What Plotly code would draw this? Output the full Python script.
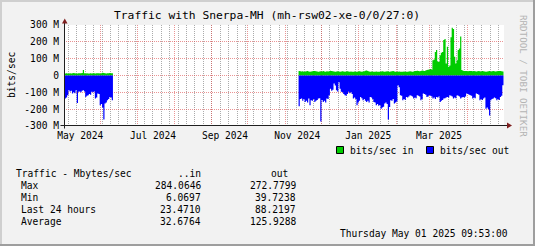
import plotly.graph_objects as go
import pandas as pd

FIG_W, FIG_H = 535, 246
L, R, T, B = 64, 504, 25, 126

title_text = "Traffic with Snerpa-MH (mh-rsw02-xe-0/0/27:0)"
x_start = "2024-05-01 09:53"
x_end = "2025-05-01 09:53"

# daily averages, Mbit/s (in positive, out drawn negative)
seg1_start = "2024-05-01"
seg1_in = [8, 12, 13, 12, 12, 13, 12, 14, 15, 13, 12, 12, 13, 14, 13, 15, 32, 14, 12, 13,
           12, 12, 13, 12, 14, 13, 12, 13, 14, 13, 12, 14, 16, 15, 13, 12, 13, 14, 15, 13, 14]
seg1_out = [-137, -137, -130, -117, -88, -95, -90, -107, -100, -105,
            -88, -163, -97, -95, -100, -90, -88, -95, -127, -120,
            -117, -110, -115, -97, -100, -95, -137, -130, -107, -110,
            -177, -170, -190, -262, -167, -160, -147, -140, -127, -130, -147]

seg2_start = "2024-11-12"
seg2_in = [26, 25, 24, 25, 23, 24, 25, 26, 24, 23,
           24, 25, 27, 26, 25, 24, 23, 24, 25, 24,
           26, 24, 23, 25, 24, 25, 28, 27, 25, 24,
           23, 24, 25, 24, 23, 24, 25, 24, 23, 24,
           25, 24, 23, 24, 22, 23, 24, 23, 22, 24,
           25, 24, 23, 24, 25, 28, 30, 26, 24, 23,
           24, 23, 22, 23, 24, 23, 22, 23, 24, 25,
           24, 23, 24, 25, 24, 23, 24, 25, 26, 24,
           23, 22, 23, 24, 23, 22, 23, 24, 23, 22,
           23, 24, 25, 24, 23, 24, 26, 27, 28, 26,
           25, 27, 30, 28, 26, 30, 32, 34,
           36, 38, 34, 90, 95, 140, 151, 85, 80, 121,
           135, 140, 211, 217, 72, 171, 52, 60, 227, 284.06,
           276, 111, 72, 90, 151, 160, 231, 32,
           28, 27, 26, 27, 25, 26, 27, 26, 25, 26,
           25, 24, 25, 26, 25, 24, 26, 25, 24, 23,
           24, 25, 26, 24, 25, 26, 25, 24, 25, 26,
           27, 26, 25, 24]
seg2_out = [-183, -140, -137, -150, -140, -157, -150, -160, -137, -177,
            -147, -150, -140, -157, -150, -145, -137, -135, -272.8, -145,
            -157, -150, -160, -137, -140, -117, -78, -90, -85, -48,
            -60, -87, -95, -40, -78, -97, -100, -110, -117, -120,
            -110, -97, -105, -100, -110, -137, -130, -140, -177, -160,
            -150, -127, -135, -147, -140, -150, -157, -150, -160, -127,
            -130, -140, -157, -160, -177, -170, -180, -175, -197, -190,
            -185, -167, -160, -170, -262, -187, -147, -150, -140, -167,
            -160, -155, -58, -70, -117, -120, -147, -140, -145, -127,
            -130, -125, -117, -120, -125, -137, -130, -135, -117, -120,
            -125, -147, -140, -107, -110, -115, -127, -125, -117, -120,
            -125, -137, -130, -140, -127, -130, -125, -157, -150, -145,
            -137, -135, -130, -127, -130, -117, -120, -125, -137, -130,
            -135, -117, -120, -125, -137, -130, -127, -130, -125, -107,
            -110, -115, -117, -120, -137, -130, -135, -107, -110, -115,
            -147, -140, -145, -137, -130, -197, -190, -200, -237, -147,
            -140, -137, -130, -135, -147, -140, -145, -127, -120, -58]

y_ticks = [-300, -200, -100, 0, 100, 200, 300]
y_tick_text = ["-300 M", "-200 M", "-100 M", "0", "100 M", "200 M", "300 M"]
x_label_dates = ["2024-05-14 22:00", "2024-07-14 06:00", "2024-09-11 23:00",
                 "2024-11-10 22:30", "2025-01-08 20:00", "2025-03-08 11:30"]
x_label_text = ["May 2024", "Jul 2024", "Sep 2024", "Nov 2024", "Jan 2025", "Mar 2025"]
month_grid = list(pd.date_range("2024-06-01", "2025-05-01", freq="MS"))
week_grid = list(pd.date_range("2024-05-05", "2025-04-27", freq="7D"))

legend_names = ["bits/sec in", "bits/sec out"]
stat_header = ["Traffic - Mbytes/sec", "..in", "out"]
stat_names = ["Max", "Min", "Last 24 hours", "Average"]
stat_in = ["284.0646", "6.0697", "23.4710", "32.6764"]
stat_out = ["272.7799", "39.7238", "88.2197", "125.9288"]
stamp = "Thursday May 01 2025 09:53:00"
watermark = "RRDTOOL / TOBI OETIKER"

C_IN, C_OUT = "#00CC00", "#0000FF"
FONT = "DejaVu Sans Mono"


def step_xy(start, vals):
    d = pd.date_range(start, periods=len(vals) + 1, freq="D")
    return list(d), list(vals) + [vals[-1]]


def px(x):
    return (x - L) / (R - L)


def py(y):
    return (B - y) / (B - T)


fig = go.Figure()
for start, vals, col in [(seg1_start, seg1_in, C_IN), (seg2_start, seg2_in, C_IN),
                         (seg1_start, seg1_out, C_OUT), (seg2_start, seg2_out, C_OUT)]:
    xs, ys = step_xy(start, vals)
    fig.add_trace(go.Scatter(x=xs, y=ys, mode="lines", line=dict(width=0, color=col, shape="hv"),
                             fill="tozeroy", fillcolor=col, showlegend=False, hoverinfo="skip"))
fig.add_trace(go.Scatter(x=[x_start, x_end], y=[0, 0], xaxis="x2", mode="lines",
                         line=dict(width=0), showlegend=False, hoverinfo="skip"))

grid_major = "rgba(222,79,79,0.6)"
grid_minor = "rgba(143,143,143,0.75)"

fig.update_layout(
    width=FIG_W, height=FIG_H,
    margin=dict(l=L, r=FIG_W - R, t=T, b=FIG_H - B, pad=0),
    paper_bgcolor="#F2F2F2", plot_bgcolor="#FFFFFF",
    showlegend=False,
    xaxis=dict(type="date", range=[x_start, x_end], tickmode="array", tickvals=month_grid,
               showticklabels=False, ticks="", showgrid=True, gridcolor=grid_major,
               griddash="1px,1px", gridwidth=1, zeroline=False, showline=False,
               minor=dict(tickvals=week_grid, showgrid=True, gridcolor=grid_minor,
                          griddash="1px,1px", gridwidth=1, ticks="")),
    xaxis2=dict(type="date", overlaying="x", anchor="y", side="bottom", range=[x_start, x_end],
                tickmode="array", tickvals=x_label_dates, ticktext=x_label_text,
                showgrid=False, zeroline=False, showline=False, ticks="",
                tickfont=dict(family=FONT, size=9.6, color="#000"), ticklabelstandoff=2),
    yaxis=dict(range=[-300, 300], tickmode="array", tickvals=y_ticks, ticktext=y_tick_text,
               showgrid=True, gridcolor=grid_major, griddash="1px,1px", gridwidth=1,
               zeroline=False, showline=False, ticks="",
               tickfont=dict(family=FONT, size=9.6, color="#000"), ticklabelstandoff=4),
)

shapes = []
# frame shading
shapes.append(dict(type="rect", xref="paper", yref="paper", x0=px(0), x1=px(FIG_W), y0=py(0), y1=py(2),
                   fillcolor="#CFCFCF", line=dict(width=0), layer="above"))
shapes.append(dict(type="rect", xref="paper", yref="paper", x0=px(0), x1=px(2), y0=py(0), y1=py(FIG_H),
                   fillcolor="#CFCFCF", line=dict(width=0), layer="above"))
shapes.append(dict(type="rect", xref="paper", yref="paper", x0=px(0), x1=px(FIG_W), y0=py(FIG_H - 2), y1=py(FIG_H),
                   fillcolor="#9E9E9E", line=dict(width=0), layer="above"))
shapes.append(dict(type="rect", xref="paper", yref="paper", x0=px(FIG_W - 2), x1=px(FIG_W), y0=py(0), y1=py(FIG_H),
                   fillcolor="#9E9E9E", line=dict(width=0), layer="above"))
# axes
shapes.append(dict(type="line", xref="paper", yref="paper", x0=px(64.5), x1=px(64.5), y0=py(128.5), y1=py(22),
                   line=dict(color="#1F1F1F", width=1), layer="above"))
shapes.append(dict(type="line", xref="paper", yref="paper", x0=px(60.5), x1=px(508), y0=py(125.5), y1=py(125.5),
                   line=dict(color="#1F1F1F", width=1), layer="above"))
# arrows
shapes.append(dict(type="path", xref="paper", yref="paper",
                   path=f"M {px(62)} {py(23.5)} L {px(67.5)} {py(23.5)} L {px(64.75)} {py(18.5)} Z",
                   fillcolor="#7F1F1F", line=dict(width=0), layer="above"))
shapes.append(dict(type="path", xref="paper", yref="paper",
                   path=f"M {px(507)} {py(122.5)} L {px(507)} {py(128.5)} L {px(512)} {py(125.5)} Z",
                   fillcolor="#7F1F1F", line=dict(width=0), layer="above"))
# legend swatches
for x0, col in [(336.5, C_IN), (426.5, C_OUT)]:
    shapes.append(dict(type="rect", xref="paper", yref="paper", x0=px(x0), x1=px(x0 + 7),
                       y0=py(146.5), y1=py(153.5), fillcolor=col, line=dict(color="#000", width=1),
                       layer="above"))
fig.update_layout(shapes=shapes)


def ann(text, x, y, xanchor="left", size=9.6, color="#000000", angle=0):
    return dict(text=text, x=px(x), y=py(y), xref="paper", yref="paper", xanchor=xanchor,
                yanchor="middle", showarrow=False, borderpad=0, textangle=angle,
                font=dict(family=FONT, size=size, color=color))


anns = [
    ann(title_text, 266.5, 16, "center", size=11.3),
    ann("bits/sec", 11, 75, "center", angle=-90),
    ann(watermark, 524, 76, "center", size=9.2, color="#B4B4B4", angle=90),
    ann(legend_names[0], 349, 150),
    ann(legend_names[1], 439, 150),
    ann(stat_header[0], 14.5, 173.5),
    ann(stat_header[1], 202, 173.5, "right"),
    ann(stat_header[2], 289, 173.5, "right"),
    ann(stamp, 509, 233.5, "right"),
]
for i, name in enumerate(stat_names):
    yy = 185.5 + 12 * i
    anns.append(ann(name, 20, yy))
    anns.append(ann(stat_in[i], 202, yy, "right"))
    anns.append(ann(stat_out[i], 297, yy, "right"))
fig.update_layout(annotations=anns)

fig.write_html("out.html")
